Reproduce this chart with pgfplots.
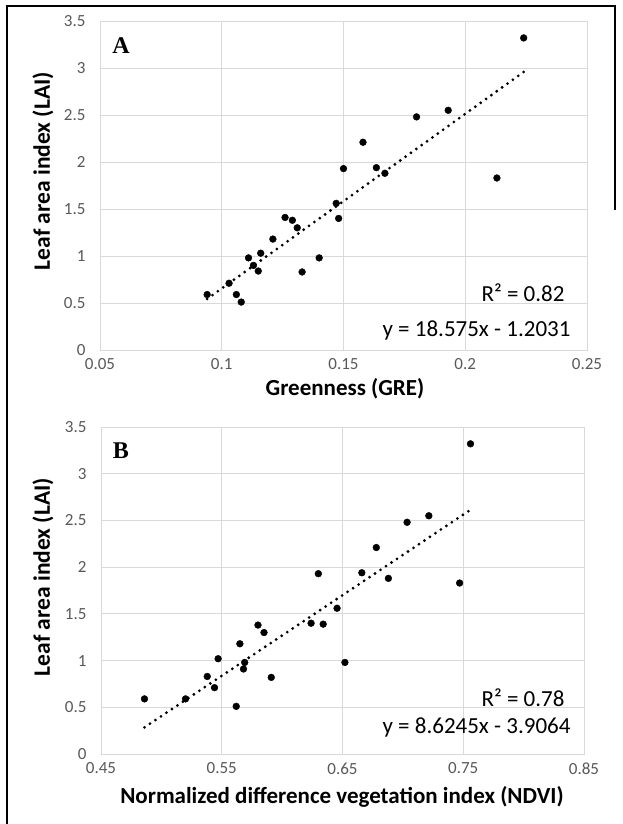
\documentclass[border=0pt]{standalone}
\usepackage{fontspec}
\setmainfont{Carlito}
\newfontfamily\serifab{Liberation Serif}
\usepackage{pgfplots}
\pgfplotsset{compat=1.18}
\definecolor{gridgray}{HTML}{D9D9D9}
\definecolor{tickgray}{HTML}{595959}

\pgfplotsset{
  lai/.style={
    scale only axis,
    clip=false,
    grid=major,
    grid style={draw=gridgray, line width=0.9pt},
    axis line style={draw=gridgray, line width=0.9pt},
    major tick length=0pt,
    tick label style={font=\fontsize{17}{20}\selectfont, text=tickgray},
    ymin=0, ymax=3.5,
    ytick={0,0.5,1,1.5,2,2.5,3,3.5},
    yticklabels={0,0.5,1,1.5,2,2.5,3,3.5},
    yticklabel style={xshift=-11pt},
    xticklabel style={yshift=-5pt},
  },
  pts/.style={only marks, mark=*, mark size=3.4pt, black},
  trend/.style={black, line width=3.1pt, line cap=round, dash pattern=on 0pt off 6.6pt},
}

\begin{document}
\begin{tikzpicture}
\path[use as bounding box, fill=white] (0,0) rectangle (622pt,-824pt);

% panel A
\begin{axis}[lai,
  at={(100pt,-350pt)}, anchor=south west,
  width=487pt, height=329pt,
  xmin=0.05, xmax=0.25,
  xtick={0.05,0.1,0.15,0.2,0.25},
  xticklabels={0.05,0.1,0.15,0.2,0.25},
]
\addplot[pts] coordinates {
  (0.224,3.32) (0.193,2.55) (0.180,2.48) (0.158,2.21)
  (0.150,1.93) (0.1635,1.94) (0.167,1.88) (0.213,1.83)
  (0.147,1.56) (0.148,1.40) (0.126,1.41) (0.129,1.38)
  (0.131,1.30) (0.121,1.18) (0.116,1.03) (0.111,0.98)
  (0.113,0.90) (0.115,0.84) (0.133,0.83) (0.140,0.98)
  (0.103,0.71) (0.094,0.59) (0.106,0.59) (0.108,0.51)
};
% y = 18.575x - 1.2031
\addplot[trend] coordinates {(0.094,0.543) (0.224,2.958)};
\end{axis}

% panel B
\begin{axis}[lai,
  at={(101pt,-754pt)}, anchor=south west,
  width=483pt, height=327pt,
  xmin=0.45, xmax=0.85,
  xtick={0.45,0.55,0.65,0.75,0.85},
  xticklabels={0.45,0.55,0.65,0.75,0.85},
]
\addplot[pts] coordinates {
  (0.756,3.32) (0.7215,2.55) (0.7035,2.48) (0.678,2.21)
  (0.666,1.94) (0.688,1.88) (0.747,1.83) (0.630,1.93)
  (0.6455,1.56) (0.624,1.40) (0.634,1.39) (0.580,1.38)
  (0.585,1.30) (0.565,1.18) (0.547,1.02) (0.569,0.98)
  (0.568,0.91) (0.538,0.83) (0.591,0.82) (0.652,0.98)
  (0.544,0.71) (0.486,0.59) (0.520,0.59) (0.562,0.51)
};
% y = 8.6245x - 3.9064
\addplot[trend] coordinates {(0.486,0.285) (0.756,2.614)};
\end{axis}

% titles and annotations
\node[rotate=90, font=\bfseries\fontsize{23.5}{28}\selectfont] at (43pt,-171pt) {Leaf area index (LAI)};
\node[rotate=90, font=\bfseries\fontsize{23.5}{28}\selectfont] at (43pt,-577pt) {Leaf area index (LAI)};
\node[font=\bfseries\fontsize{23}{27}\selectfont] at (345pt,-389pt) {Greenness (GRE)};
\node[font=\bfseries\fontsize{23}{27}\selectfont] at (342pt,-797pt) {Normalized difference vegetation index (NDVI)};

\node[font=\serifab\bfseries\fontsize{24}{28}\selectfont] at (121pt,-45.5pt) {A};
\node[font=\serifab\bfseries\fontsize{24}{28}\selectfont] at (121pt,-451pt) {B};

\node[anchor=east, font=\fontsize{23}{27}\selectfont] at (568pt,-293pt) {R² = 0.82};
\node[anchor=east, font=\fontsize{23}{27}\selectfont] at (574pt,-330pt) {y = 18.575x - 1.2031};
\node[anchor=east, font=\fontsize{23}{27}\selectfont] at (568pt,-698pt) {R² = 0.78};
\node[anchor=east, font=\fontsize{23}{27}\selectfont] at (574pt,-727pt) {y = 8.6245x - 3.9064};

% frame
\draw[black, line width=2.6pt] (7pt,-824pt) -- (7pt,-6pt) -- (615pt,-6pt) -- (615pt,-210pt);
\end{tikzpicture}
\end{document}
